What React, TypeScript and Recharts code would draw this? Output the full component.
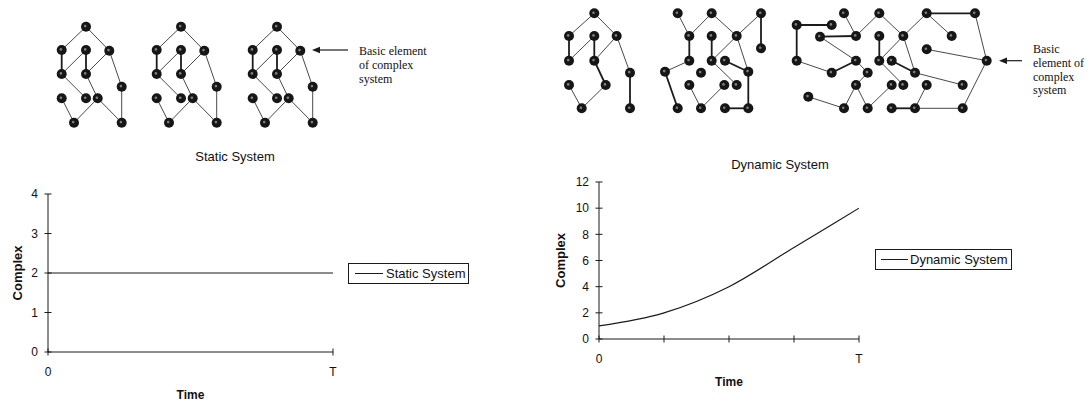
import { LineChart, Line, XAxis, YAxis, Legend, ScatterChart, Scatter, ReferenceLine } from 'recharts'

const INK = '#1b1b1b'
const SANS = '"Liberation Sans", Arial, Helvetica, sans-serif'
const SERIF = '"Liberation Serif", "Times New Roman", serif'

// ---- chart data ----
const staticTimes = [0, 1]
const staticValues = [2, 2]
const staticTickLabels = ['0', 'T']
const staticYTicks = [0, 1, 2, 3, 4]

const dynamicTimes = [0, 1, 2, 3, 4]
const dynamicValues = [1, 2, 4, 7, 10]
const dynamicTickLabels = ['0', '', '', '', 'T']
const dynamicYTicks = [0, 2, 4, 6, 8, 10, 12]

// ---- network sketches: node positions [x, y], edges [from, to, weight] ----
const staticNodes: [number, number][] = [
  [86, 26.7], [61.7, 50], [86, 50], [109.3, 50.7], [61.7, 74], [86, 74],
  [121.7, 86.7], [61.7, 98.3], [86, 98.3], [97.7, 98.3], [74, 122.7], [121.7, 122.7],
]
const staticEdges: [number, number, number][] = [
  [0, 1, 1], [0, 3, 1], [1, 4, 2], [2, 4, 1], [2, 5, 2], [3, 5, 1], [3, 6, 1],
  [4, 8, 1], [5, 9, 1], [9, 10, 1], [9, 11, 1], [7, 10, 1], [6, 11, 1],
]
const staticCopies = [0, 95, 191]

const dynNodesA: [number, number][] = [
  [594.3, 13.3], [569, 36], [594.3, 36], [616.7, 36], [569, 60.7], [594.3, 60.7],
  [630, 72.7], [569, 85], [605.7, 85], [581.7, 108.3], [630, 108.3],
]
const dynEdgesA: [number, number, number][] = [
  [0, 1, 1], [0, 3, 1], [1, 4, 2], [2, 4, 1], [2, 5, 2], [3, 5, 1], [3, 6, 1],
  [5, 8, 2], [8, 9, 1], [7, 9, 1], [6, 10, 2],
]

const dynNodesB: [number, number][] = [
  [677.7, 13.3], [711.7, 13.3], [761, 13.3], [689.3, 36], [711.7, 36], [736.7, 36],
  [761, 48.3], [689.3, 60.7], [711.7, 60.7], [725, 60.7], [665, 71.7], [701, 72.7],
  [748.3, 71.7], [689.3, 85], [724.3, 85], [736.7, 85], [677.7, 108.3], [701, 108.3],
  [725, 108.3], [748.3, 108.3],
]
const dynEdgesB: [number, number, number][] = [
  [0, 3, 1], [1, 3, 1], [1, 5, 1], [2, 5, 1], [2, 6, 2], [3, 7, 2], [4, 8, 2],
  [5, 8, 1], [5, 12, 1], [7, 10, 1], [10, 16, 2], [13, 17, 1], [17, 14, 1],
  [8, 15, 1], [9, 12, 2], [12, 19, 2], [18, 19, 2],
]

const dynNodesC: [number, number][] = [
  [796.7, 25], [831.7, 25], [844, 13.3], [879.3, 13.3], [926.7, 13.3], [975, 13.3],
  [820, 36.7], [856, 36], [879.3, 36], [903.3, 36], [951.7, 36], [926.7, 49.3],
  [796.7, 60.7], [856, 60.7], [879.3, 60.7], [891.7, 60.7], [986.7, 60.7],
  [831.7, 72.7], [867.7, 72.7], [915, 72.7], [856, 85], [891.7, 85], [903.3, 85],
  [926.7, 85], [962.7, 85], [808.3, 96.7], [844, 108.3], [867.7, 108.3],
  [891.7, 108.3], [915, 108.3], [962.7, 108.3],
]
const dynEdgesC: [number, number, number][] = [
  [0, 1, 2], [0, 12, 2], [12, 17, 1], [17, 13, 2], [6, 7, 2], [6, 13, 1], [2, 7, 1],
  [7, 3, 1], [3, 9, 1], [9, 4, 1], [4, 5, 2], [4, 10, 1], [5, 16, 1], [16, 30, 1],
  [11, 16, 1], [8, 14, 2], [9, 14, 1], [9, 19, 1], [14, 22, 1], [15, 19, 2],
  [19, 24, 1], [13, 18, 1], [18, 20, 1], [20, 26, 1], [20, 27, 1], [27, 21, 1],
  [25, 26, 1], [28, 29, 2], [29, 30, 1], [29, 23, 1],
]

type Pt = { x: number; y: number }
type Seg = { a: Pt; b: Pt; w: number }

function buildGraph(nodes: [number, number][], edges: [number, number, number][], dx = 0) {
  const pts: Pt[] = nodes.map(([x, y]) => ({ x: x + dx, y }))
  const segs: Seg[] = edges.map(([i, j, w]) => ({ a: pts[i], b: pts[j], w }))
  return { pts, segs }
}

const graphs = [
  ...staticCopies.map((dx) => buildGraph(staticNodes, staticEdges, dx)),
  buildGraph(dynNodesA, dynEdgesA),
  buildGraph(dynNodesB, dynEdgesB),
  buildGraph(dynNodesC, dynEdgesC),
]
const allNodes = graphs.flatMap((g) => g.pts)
const allSegs = graphs.flatMap((g) => g.segs)

function NodeDot({ cx, cy }: any) {
  if (cx == null || cy == null) return null
  return (
    <g>
      <circle cx={cx} cy={cy} r={5} fill="#161616" />
      <circle cx={cx - 0.8} cy={cy - 0.6} r={1.3} fill="#808080" />
    </g>
  )
}

function NetworkPanel() {
  return (
    <ScatterChart width={1090} height={170} margin={{ top: 0, right: 0, bottom: 0, left: 0 }}>
      <XAxis type="number" dataKey="x" domain={[0, 1090]} allowDataOverflow hide />
      <YAxis type="number" dataKey="y" domain={[0, 170]} allowDataOverflow reversed hide />
      {allSegs.map((s, i) => (
        <ReferenceLine
          key={i}
          segment={[s.a, s.b]}
          stroke={INK}
          strokeWidth={s.w === 2 ? 1.8 : 0.8}
          ifOverflow="visible"
        />
      ))}
      <Scatter data={allNodes} shape={<NodeDot />} isAnimationActive={false} />
    </ScatterChart>
  )
}

function YTick({ x, y, payload }: any) {
  return (
    <g>
      <line x1={x - 3.5} x2={x + 3.5} y1={y} y2={y} stroke={INK} />
      <text x={x - 10} y={y} dy="0.35em" textAnchor="end" fontSize={12} fontFamily={SANS} fill="#111">
        {payload.value}
      </text>
    </g>
  )
}

function makeXTick(labels: string[]) {
  return function XTick({ x, y, payload }: any) {
    return (
      <g>
        <line x1={x} x2={x} y1={y - 3.5} y2={y + 3.5} stroke={INK} />
        <text x={x} y={y + 24} textAnchor="middle" fontSize={12} fontFamily={SANS} fill="#111">
          {labels[payload.value] ?? ''}
        </text>
      </g>
    )
  }
}

function LegendBox({ name, width, lineStart, lineLen, textStart }: any) {
  return (
    <div
      style={{
        boxSizing: 'border-box',
        width,
        height: 21,
        border: `1px solid ${INK}`,
        position: 'relative',
        fontFamily: SANS,
        fontSize: 13,
        color: '#111',
        background: '#fff',
      }}
    >
      <svg width={width} height={19} style={{ position: 'absolute', left: 0, top: 0 }}>
        <line x1={lineStart} x2={lineStart + lineLen} y1={9.5} y2={9.5} stroke={INK} strokeWidth={1} />
      </svg>
      <span style={{ position: 'absolute', left: textStart, top: 2, whiteSpace: 'nowrap' }}>{name}</span>
    </div>
  )
}

type PanelProps = {
  left: number
  width: number
  times: number[]
  values: number[]
  tickLabels: string[]
  yTicks: number[]
  yMax: number
  name: string
  curve: 'linear' | 'monotone'
  margin: { top: number; right: number; bottom: number; left: number }
  complexDx: number
  legendPos: { left: number; top: number; width: number; lineStart: number; lineLen: number; textStart: number }
}

function ComplexityPanel(p: PanelProps) {
  const data = p.times.map((t, i) => ({ t, v: p.values[i] }))
  const XTick = makeXTick(p.tickLabels)
  return (
    <div style={{ position: 'absolute', left: p.left, top: 170 }}>
      <LineChart width={p.width} height={233} data={data} margin={p.margin}>
        <XAxis
          type="number"
          dataKey="t"
          domain={[0, p.times[p.times.length - 1]]}
          ticks={p.times}
          interval={0}
          allowDataOverflow
          height={48}
          tickSize={0}
          tickMargin={0}
          tickLine={false}
          stroke={INK}
          tick={<XTick />}
          label={(lp: any) => {
            const vb = lp?.viewBox
            if (!vb) return null
            return (
              <text
                x={vb.x + vb.width / 2}
                y={vb.y + 46.5}
                textAnchor="middle"
                fontSize={12}
                fontWeight="bold"
                fontFamily={SANS}
                fill="#111"
              >
                Time
              </text>
            )
          }}
        />
        <YAxis
          type="number"
          domain={[0, p.yMax]}
          ticks={p.yTicks}
          interval={0}
          allowDataOverflow
          width={40}
          tickSize={0}
          tickMargin={0}
          tickLine={false}
          stroke={INK}
          tick={<YTick />}
          label={(lp: any) => {
            const vb = lp?.viewBox
            if (!vb) return null
            const cx = vb.x + vb.width + p.complexDx
            const cy = vb.y + vb.height / 2
            return (
              <text
                x={cx}
                y={cy}
                dy="0.35em"
                transform={`rotate(-90 ${cx} ${cy})`}
                textAnchor="middle"
                fontSize={13}
                fontWeight="bold"
                fontFamily={SANS}
                fill="#111"
              >
                Complex
              </text>
            )
          }}
        />
        <Line
          type={p.curve}
          dataKey="v"
          name={p.name}
          stroke={INK}
          strokeWidth={1.2}
          dot={false}
          isAnimationActive={false}
        />
        <Legend
          layout="horizontal"
          align="center"
          verticalAlign="middle"
          wrapperStyle={{ left: p.legendPos.left, top: p.legendPos.top, width: p.legendPos.width }}
          content={() => (
            <LegendBox
              name={p.name}
              width={p.legendPos.width}
              lineStart={p.legendPos.lineStart}
              lineLen={p.legendPos.lineLen}
              textStart={p.legendPos.textStart}
            />
          )}
        />
      </LineChart>
    </div>
  )
}

function Annotations() {
  const txt = { fontFamily: SERIF, fontSize: 12, fill: '#111' }
  return (
    <svg width={1090} height={403} style={{ position: 'absolute', left: 0, top: 0, pointerEvents: 'none' }}>
      <line x1={348} x2={318} y1={50} y2={50} stroke={INK} strokeWidth={1.2} />
      <polygon points="312,50 320,46.8 320,53.2" fill={INK} />
      <text x={359} y={55} {...txt}>Basic element</text>
      <text x={359} y={69} {...txt}>of complex</text>
      <text x={359} y={83} {...txt}>system</text>

      <line x1={1022} x2={1005} y1={60.7} y2={60.7} stroke={INK} strokeWidth={1.2} />
      <polygon points="999,60.7 1007,57.5 1007,63.9" fill={INK} />
      <text x={1033} y={53} {...txt}>Basic</text>
      <text x={1033} y={67} {...txt}>element of</text>
      <text x={1033} y={80.5} {...txt}>complex</text>
      <text x={1033} y={94} {...txt}>system</text>

      <text x={235} y={161} textAnchor="middle" fontFamily={SANS} fontSize={13} fill="#111">
        Static System
      </text>
      <text x={780} y={168.5} textAnchor="middle" fontFamily={SANS} fontSize={13} fill="#111">
        Dynamic System
      </text>
    </svg>
  )
}

export default function App() {
  return (
    <div style={{ position: 'absolute', left: 0, top: 0, width: 1090, height: 403, background: '#fff' }}>
      <div style={{ position: 'absolute', left: 0, top: 0 }}>
        <NetworkPanel />
      </div>
      <ComplexityPanel
        left={0}
        width={540}
        times={staticTimes}
        values={staticValues}
        tickLabels={staticTickLabels}
        yTicks={staticYTicks}
        yMax={4}
        name="Static System"
        curve="linear"
        margin={{ top: 24, right: 207, bottom: 3, left: 8 }}
        complexDx={-31}
        legendPos={{ left: 348, top: 93, width: 121, lineStart: 6, lineLen: 28, textStart: 37 }}
      />
      <ComplexityPanel
        left={540}
        width={550}
        times={dynamicTimes}
        values={dynamicValues}
        tickLabels={dynamicTickLabels}
        yTicks={dynamicYTicks}
        yMax={12}
        name="Dynamic System"
        curve="monotone"
        margin={{ top: 12, right: 231, bottom: 16, left: 19 }}
        complexDx={-39}
        legendPos={{ left: 335, top: 79, width: 137, lineStart: 5, lineLen: 27, textStart: 34 }}
      />
      <Annotations />
    </div>
  )
}
